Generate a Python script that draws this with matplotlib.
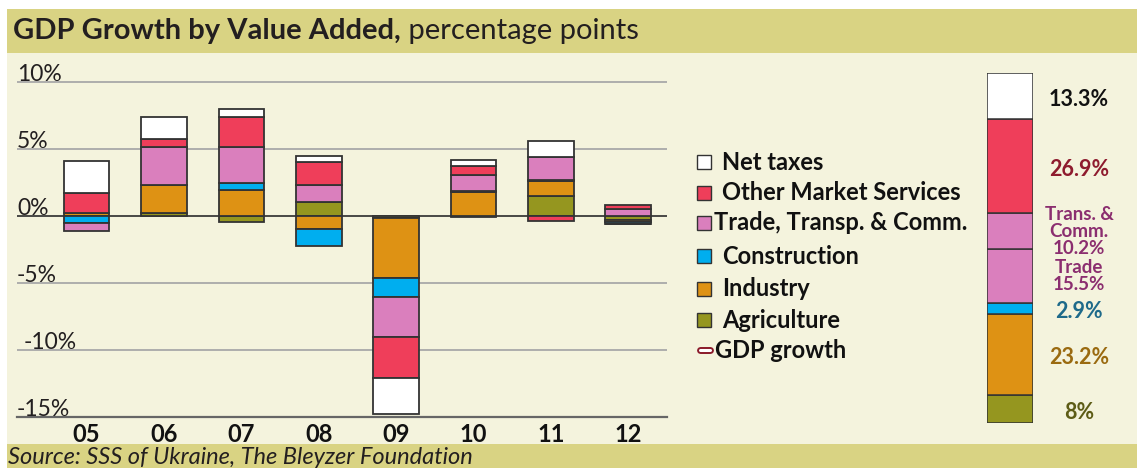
import numpy as np
import matplotlib
matplotlib.use("Agg")
import matplotlib.pyplot as plt
from matplotlib.patches import Rectangle

plt.rcParams['font.family'] = ['Lato', 'DejaVu Sans']

# --- data -------------------------------------------------------------
years = ['05', '06', '07', '08', '09', '10', '11', '12']

agriculture = [0.0, 0.25, -0.43, 1.08, -0.15, -0.05, 1.5, -0.25]
industry = [0.25, 2.05, 1.95, -0.95, -4.5, 1.8, 1.1, -0.15]
construction = [-0.5, 0.0, 0.5, -1.25, -1.35, 0.05, 0.1, -0.15]
trade_transp = [-0.6, 2.9, 2.75, 1.23, -3.06, 1.25, 1.7, 0.5]
other_services = [1.45, 0.55, 2.2, 1.7, -2.99, 0.65, -0.38, 0.37]
net_taxes = [2.43, 1.65, 0.63, 0.48, -2.74, 0.45, 1.18, -0.05]

series_names = ['Agriculture', 'Industry', 'Construction',
                'Trade, Transp. & Comm.', 'Other Market Services', 'Net taxes']
series_values = [agriculture, industry, construction,
                 trade_transp, other_services, net_taxes]
series_colors = ['#95961f', '#de9214', '#00aeef', '#da7fbd', '#ef3e5a', '#ffffff']

# structure of value added (right bar), bottom to top
share_names = ['Agriculture', 'Industry', 'Construction', 'Trade',
               'Trans. & Comm.', 'Other Market Services', 'Net taxes']
share_values = [8, 23.2, 2.9, 15.5, 10.2, 26.9, 13.3]
share_labels = ['8%', '23.2%', '2.9%', 'Trade\n15.5%', 'Trans. &\nComm.\n10.2%',
                '26.9%', '13.3%']
share_colors = ['#95961f', '#de9214', '#00aeef', '#da7fbd', '#da7fbd', '#ef3e5a', '#ffffff']
share_text_colors = ['#5d5c16', '#9a6a10', '#1e6a8a', '#8b2e6f', '#8b2e6f',
                     '#8e1b2e', '#111111']

yticks = [10, 5, 0, -5, -10, -15]

# --- figure -----------------------------------------------------------
W, H = 1137, 468
fig = plt.figure(figsize=(W / 100, H / 100), dpi=100)
fig.patch.set_facecolor('white')

bg = fig.add_axes([0, 0, 1, 1], zorder=0)
bg.set_xlim(0, W)
bg.set_ylim(H, 0)
bg.axis('off')

band = '#d9d383'
cream = '#f4f3dd'
bg.add_patch(Rectangle((7, 53), W - 7, 391, color=cream, lw=0))
bg.add_patch(Rectangle((7, 9), W - 7, 44, color=band, lw=0))
bg.add_patch(Rectangle((7, 444), W - 7, 24, color=band, lw=0))

t1 = bg.text(13, 31, 'GDP Growth by Value Added,', fontsize=21,
             fontweight='bold', color='#231f20', va='center', ha='left')
bg.annotate(' percentage points', xy=(1, 0), xycoords=t1, fontsize=21,
            color='#231f20', va='bottom', ha='left')

bg.text(8, 457, 'Source: SSS of Ukraine, The Bleyzer Foundation',
        fontsize=17, style='italic', color='#231f20', va='center', ha='left')

# legend (drawn by hand to follow the original layout)
legend_rows = [('Net taxes', '#ffffff', 162),
               ('Other Market Services', '#ef3e5a', 193),
               ('Trade, Transp. & Comm.', '#da7fbd', 223),
               ('Construction', '#00aeef', 256),
               ('Industry', '#de9214', 289),
               ('Agriculture', '#95961f', 320)]
for name, col, yc in legend_rows:
    bg.add_patch(Rectangle((697, yc - 7), 14, 14, facecolor=col,
                           edgecolor='#333333', lw=1))
    tx = 714 if name.startswith('Trade') else 722
    bg.text(tx, yc, name, fontsize=17, fontweight='bold', color='#111111',
            va='center', ha='left')
bg.plot([699.5, 710], [350, 350], color='#8b1a2a', lw=5, solid_capstyle='round')
bg.plot([699.5, 710], [350, 350], color='white', lw=2.2, solid_capstyle='round')
bg.text(715, 350, 'GDP growth', fontsize=17, fontweight='bold', color='#111111',
        va='center', ha='left')

# --- main stacked bars --------------------------------------------------
y_top, y_bot = 68.9, 417
ax = fig.add_axes([17 / W, (H - y_bot) / H, 650 / W, (y_bot - y_top) / H], zorder=1)
ax.set_facecolor('none')
x = np.arange(len(years))
pos_bottom = np.zeros(len(years))
neg_bottom = np.zeros(len(years))
for vals, col, name in zip(series_values, series_colors, series_names):
    v = np.array(vals, dtype=float)
    bottom = np.where(v >= 0, pos_bottom, neg_bottom)
    ax.bar(x, v, bottom=bottom, width=0.59, color=col, edgecolor='#333333',
           linewidth=1.3, label=name, zorder=3)
    pos_bottom += np.where(v >= 0, v, 0)
    neg_bottom += np.where(v < 0, v, 0)

ax.set_xlim(-0.9, 7.5)
ax.set_ylim(-15, 11)
for t in yticks:
    if t == 0:
        ax.axhline(t, color='#3a3a3a', lw=1.3, zorder=2)
    elif t == -15:
        ax.axhline(t, color='#666666', lw=1.6, zorder=2, clip_on=False)
    else:
        ax.axhline(t, color='#a8a8a8', lw=1.3, zorder=1)
    ax.text(0.0 if t != -10 else 0.01, t + 0.08, f'{t}%', transform=ax.get_yaxis_transform(),
            fontsize=16.5, color='#231f20', ha='left', va='baseline')
for s in ax.spines.values():
    s.set_visible(False)
ax.set_yticks([])
ax.set_xticks(x)
ax.set_xticklabels(years, fontsize=17, fontweight='bold', color='#111111')
ax.tick_params(axis='x', length=0, pad=4)

# --- structure bar ------------------------------------------------------
ax2 = fig.add_axes([987 / W, (H - 422.7) / H, 46 / W, 350 / H], zorder=1)
cum = np.concatenate([[0], np.cumsum(share_values)[:-1]])
ax2.bar(0, share_values, bottom=cum, width=1.0, color=share_colors,
        edgecolor='#333333', linewidth=1.1)
ax2.set_xlim(-0.5, 0.5)
ax2.set_ylim(0, 100)
ax2.axis('off')
for val, b, lab, tc in zip(share_values, cum, share_labels, share_text_colors):
    multi = '\n' in lab
    ax2.text(1.5, b + val / 2 - (0.0 if multi else 1.0), lab,
             fontsize=13.5 if multi else 15.5, fontweight='bold', color=tc,
             ha='center', va='center', linespacing=1.0, clip_on=False)

fig.savefig('out.png', dpi=100)
